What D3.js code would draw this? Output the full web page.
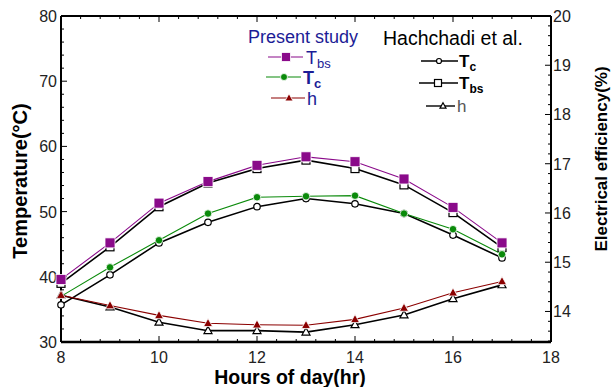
<!DOCTYPE html>
<html><head><meta charset="utf-8">
<script src="https://cdn.jsdelivr.net/npm/d3@7/dist/d3.min.js"></script>
<style>body{margin:0;background:#fff;}svg{display:block;font-family:Arial,"Liberation Sans",sans-serif;}</style>
</head><body><svg id="c" width="611" height="387"></svg>
<script>
const hours = [8, 9, 10, 11, 12, 13, 14, 15, 16, 17];
const presentTbs = [39.6, 45.2, 51.3, 54.6, 57.1, 58.4, 57.65, 55.0, 50.65, 45.2];
const presentTc = [37.0, 41.45, 45.6, 49.7, 52.2, 52.35, 52.45, 49.7, 47.3, 43.45];
const presentH = [14.33, 14.12, 13.92, 13.76, 13.73, 13.72, 13.84, 14.07, 14.38, 14.61];
const hachTbs = [39.0, 44.6, 50.75, 54.4, 56.6, 57.9, 56.6, 54.1, 49.85, 44.5];
const hachTc = [35.7, 40.3, 45.2, 48.35, 50.75, 52.0, 51.2, 49.7, 46.4, 42.9];
const hachH = [14.33, 14.09, 13.78, 13.61, 13.61, 13.58, 13.73, 13.93, 14.26, 14.54];
const xTicks = [8, 10, 12, 14, 16, 18];
const yTicks = [30, 40, 50, 60, 70, 80];
const y2Ticks = [14, 15, 16, 17, 18, 19, 20];

const svg = d3.select("#c");
const L = 61, R = 551, T = 16, B = 342;
const x = d3.scaleLinear().domain([8, 18]).range([L, R]);
const y = d3.scaleLinear().domain([30, 80]).range([B, T]);
const y2 = d3.scaleLinear().domain([13.38, 20]).range([B, T]);

const g = svg.append("g");
function tickLine(x1,y1,x2,y2_,w){g.append("line").attr("x1",x1).attr("y1",y1).attr("x2",x2).attr("y2",y2_).attr("stroke","#000").attr("stroke-width",w||1);}
for (let v = 8; v <= 18.001; v += 0.4) {
  const major = Math.abs(v - Math.round(v)) < 1e-6 && Math.round(v) % 2 === 0;
  const len = major ? 6 : 3;
  tickLine(x(v), B, x(v), B - len);
  tickLine(x(v), T, x(v), T + len);
}
for (let v = 30; v <= 80.001; v += 2) {
  const major = Math.round(v) % 10 === 0;
  tickLine(L, y(v), L + (major ? 6 : 3), y(v));
}
for (let v = 13.4; v <= 20.001; v += 0.2) {
  const major = Math.abs(v - Math.round(v)) < 1e-6;
  tickLine(R, y2(v), R - (major ? 6 : 3), y2(v));
}
g.append("line").attr("x1",L).attr("x2",R).attr("y1",T).attr("y2",T).attr("stroke","#000").attr("stroke-width",2);
g.append("line").attr("x1",L).attr("x2",R).attr("y1",B).attr("y2",B).attr("stroke","#000").attr("stroke-width",2.5);
g.append("line").attr("x1",L).attr("x2",L).attr("y1",T).attr("y2",B).attr("stroke","#000").attr("stroke-width",2);
g.append("line").attr("x1",R).attr("x2",R).attr("y1",T).attr("y2",B).attr("stroke","#000").attr("stroke-width",2);

xTicks.forEach(v => svg.append("text").attr("x", x(v)).attr("y", 362.5).attr("text-anchor","middle").attr("font-size",16).attr("fill","#222").text(v));
yTicks.forEach(v => svg.append("text").attr("x", 57).attr("y", y(v) + 6).attr("text-anchor","end").attr("font-size",16).attr("fill","#222").text(v));
y2Ticks.forEach(v => svg.append("text").attr("x", 553).attr("y", y2(v) + 6).attr("text-anchor","start").attr("font-size",16).attr("fill","#222").text(v));

svg.append("text").attr("x", 290).attr("y", 384).attr("text-anchor","middle").attr("font-size",19.5).attr("font-weight","bold").text("Hours of day(hr)");
svg.append("text").attr("transform","translate(27,181) rotate(-90)").attr("text-anchor","middle").attr("font-size",20).attr("font-weight","bold").text("Temperature(°C)");
svg.append("text").attr("transform","translate(607,159) rotate(-90)").attr("text-anchor","middle").attr("font-size",17).attr("font-weight","bold").text("Electrical efficiency(%)");

const line = (ys, sc) => d3.line().x((d,i) => x(hours[i])).y(d => sc(d))(ys);
function drawSeries(vals, sc, color, width) {
  svg.append("path").attr("d", line(vals, sc)).attr("fill","none").attr("stroke",color).attr("stroke-width",width);
}
function marker(sel, type, cx, cy, color, size, open) {
  const fill = open ? "#fff" : color;
  const sw = open ? 1.2 : 0.8;
  const stroke = open ? "#000" : "#fff";
  if (type === "square") {
    sel.append("rect").attr("x", cx - size/2).attr("y", cy - size/2).attr("width", size).attr("height", size).attr("fill", fill).attr("stroke", stroke).attr("stroke-width", sw);
  } else if (type === "circle") {
    sel.append("circle").attr("cx", cx).attr("cy", cy).attr("r", size/2).attr("fill", fill).attr("stroke", stroke).attr("stroke-width", sw);
  } else {
    const h = size * 0.9;
    sel.append("path").attr("d", `M${cx},${cy - h*0.6}L${cx + size/2},${cy + h*0.4}L${cx - size/2},${cy + h*0.4}Z`).attr("fill", fill).attr("stroke", stroke).attr("stroke-width", sw);
  }
}
function drawMarkers(vals, sc, type, color, size, open, skipFirst) {
  const mg = svg.append("g");
  vals.forEach((v, i) => { if (!(skipFirst && i === 0)) marker(mg, type, x(hours[i]), sc(v), color, size, open); });
}

const purple = "#8a0a8a", green = "#0a8a0a", red = "#8b0000", navy = "#1c1c96";

drawSeries(hachTbs, y, "#000", 1.6);
drawSeries(hachTc, y, "#000", 1.6);
drawSeries(hachH, y2, "#000", 1.6);
drawSeries(presentTbs, y, purple, 1.1);
drawSeries(presentTc, y, green, 1.1);
drawSeries(presentH, y2, red, 1.1);

drawMarkers(hachTbs, y, "square", "#000", 8, true);
drawMarkers(hachTc, y, "circle", "#000", 6.5, true);
drawMarkers(hachH, y2, "triangle", "#000", 8, true);
drawMarkers(presentTbs, y, "square", purple, 10, false);
drawMarkers(presentTc, y, "circle", green, 7.5, false, true);
drawMarkers(presentH, y2, "triangle", red, 9, false);

svg.append("text").attr("x", 248).attr("y", 43).attr("font-size",18).attr("fill",navy).text("Present study");
function legLine(x1, x2, yy, color, w){svg.append("line").attr("x1",x1).attr("x2",x2).attr("y1",yy).attr("y2",yy).attr("stroke",color).attr("stroke-width",w);}
legLine(268, 303, 57, purple, 1.2); marker(svg, "square", 286, 57, purple, 9, false);
legLine(266, 301, 77, green, 1.2); marker(svg, "circle", 284, 77, green, 7, false);
legLine(271, 305, 98, red, 1.2); marker(svg, "triangle", 289, 98, red, 8, false);
let t = svg.append("text").attr("x", 306).attr("y", 64).attr("font-size",18).attr("fill",navy);
t.append("tspan").text("T"); t.append("tspan").attr("font-size",13).attr("dy",4).text("bs");
t = svg.append("text").attr("x", 303).attr("y", 84).attr("font-size",18).attr("font-weight","bold").attr("fill",navy);
t.append("tspan").text("T"); t.append("tspan").attr("font-size",13).attr("dy",4).text("c");
svg.append("text").attr("x", 307).attr("y", 105).attr("font-size",18).attr("fill",navy).text("h");

svg.append("text").attr("x", 383).attr("y", 45).attr("font-size",19.5).attr("fill","#000").text("Hachchadi et al.");
legLine(421, 458, 61, "#000", 1.4); marker(svg, "circle", 439, 61, "#000", 5, true);
legLine(419, 458, 83, "#000", 1.4); marker(svg, "square", 438, 83, "#000", 7, true);
legLine(426, 455, 106, "#000", 1.4); marker(svg, "triangle", 443, 106, "#000", 6, true);
t = svg.append("text").attr("x", 459).attr("y", 67).attr("font-size",17).attr("font-weight","bold").attr("fill","#000");
t.append("tspan").text("T"); t.append("tspan").attr("font-size",12).attr("dy",4).text("c");
t = svg.append("text").attr("x", 459).attr("y", 89).attr("font-size",17).attr("font-weight","bold").attr("fill","#000");
t.append("tspan").text("T"); t.append("tspan").attr("font-size",12).attr("dy",4).text("bs");
svg.append("text").attr("x", 457).attr("y", 112).attr("font-size",17).attr("fill","#555").text("h");
</script></body></html>
